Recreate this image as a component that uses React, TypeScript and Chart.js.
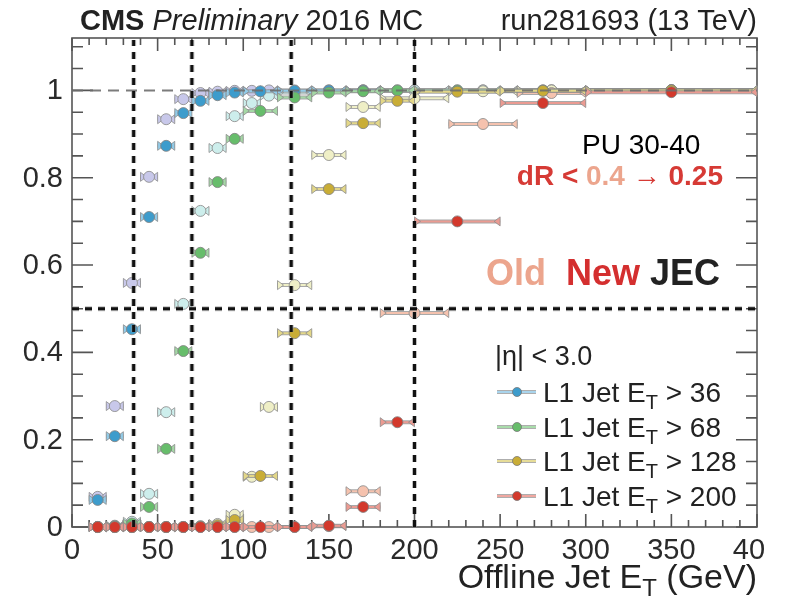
import { useEffect, useRef } from "react";
import { Chart, registerables } from "chart.js";

Chart.register(...registerables);

// Binning (GeV): bin centres and half widths for the two JEC versions
const newBinCenters = [15, 25, 35, 45, 55, 65, 75, 85, 95, 110, 130, 150, 170, 190, 225, 275, 350];
const newBinHalfWidths = [5, 5, 5, 5, 5, 5, 5, 5, 5, 10, 10, 10, 10, 10, 25, 25, 50];
const oldBinCenters = [15, 25, 35, 45, 55, 65, 75, 85, 95, 105, 115, 130, 150, 170, 200, 240, 280, 350];
const oldBinHalfWidths = [5, 5, 5, 5, 5, 5, 5, 5, 5, 5, 5, 10, 10, 10, 20, 20, 20, 50];

// Efficiencies, new JEC
const effNew36 = [0.062, 0.208, 0.453, 0.71, 0.873, 0.948, 0.976, 0.989, 0.995, 0.998, 0.999, 1, 1, 1, 1, 1, 1];
const effNew68 = [0, 0.002, 0.008, 0.046, 0.179, 0.403, 0.628, 0.79, 0.889, 0.953, 0.984, 0.995, 0.998, 1, 1, 1, 1];
const effNew128 = [0, 0, 0, 0, 0, 0, 0.001, 0.004, 0.016, 0.117, 0.444, 0.774, 0.925, 0.976, 0.997, 0.999, 1];
const effNew200 = [0, 0, 0, 0, 0, 0, 0, 0, 0, 0, 0, 0.003, 0.046, 0.24, 0.7, 0.971, 0.996];

// Efficiencies, old JEC
const effOld36 = [0.069, 0.277, 0.559, 0.802, 0.934, 0.98, 0.994, 0.997, 0.999, 0.999, 1, 1, 1, 1, 1, 1, 1, 1];
const effOld68 = [0, 0.003, 0.012, 0.076, 0.263, 0.511, 0.724, 0.868, 0.941, 0.971, 0.988, 0.995, 0.998, 1, 1, 1, 1, 1];
const effOld128 = [0, 0, 0, 0, 0, 0, 0.002, 0.007, 0.028, 0.115, 0.275, 0.554, 0.852, 0.962, 0.982, 0.998, 1, 1];
const effOld200 = [0, 0, 0, 0, 0, 0, 0, 0, 0, 0, 0, 0, 0.002, 0.082, 0.49, 0.923, 0.994, 1];

// L1 thresholds (GeV) marked with vertical lines, and reference levels
const thresholdLines = [36, 70, 128, 200];
const halfEfficiency = 0.5;
const fullEfficiency = 1;

const legendThresholds = ["36", "68", "128", "200"];
const xTickValues = [0, 50, 100, 150, 200, 250, 300, 350, 400];
const xTickLabels = ["0", "50", "100", "150", "200", "250", "300", "350", "400"];
const yTickValues = [0, 0.2, 0.4, 0.6, 0.8, 1];
const yTickLabels = ["0", "0.2", "0.4", "0.6", "0.8", "1"];

const SANS = '"Liberation Sans", Arial, Helvetica, "DejaVu Sans", sans-serif';

const newColors = ["#3d9ccc", "#67bd6b", "#c9ad36", "#d3392c"];
const newBarColors = ["#92cbe8", "#a4d8a5", "#e3d788", "#eb9b92"];
const oldColors = ["#c8c8ea", "#cdeeec", "#efefc6", "#f5c2ae"];
const legendLineColors = ["#a9d4ec", "#a9dcab", "#e6dc98", "#efa7a0"];

type Pt = { x: number; y: number; xMin: number; xMax: number };

function makePoints(centers: number[], half: number[], eff: number[]): Pt[] {
  return centers.map((c, i) => ({ x: c, y: eff[i], xMin: c - half[i], xMax: c + half[i] }));
}

type Part = { text: string; font: string; color: string; dy?: number };

function drawRich(ctx: CanvasRenderingContext2D, parts: Part[], x: number, y: number, align: "left" | "right") {
  ctx.save();
  ctx.textAlign = "left";
  ctx.textBaseline = "alphabetic";
  let total = 0;
  for (const p of parts) {
    ctx.font = p.font;
    total += ctx.measureText(p.text).width;
  }
  let cx = align === "right" ? x - total : x;
  for (const p of parts) {
    ctx.font = p.font;
    ctx.fillStyle = p.color;
    ctx.fillText(p.text, cx, y + (p.dy || 0));
    cx += ctx.measureText(p.text).width;
  }
  ctx.restore();
}

function dashedLine(ctx: CanvasRenderingContext2D, x0: number, y0: number, x1: number, y1: number) {
  ctx.setLineDash([7, 6]);
  ctx.strokeStyle = "rgba(150,150,150,0.6)";
  ctx.lineWidth = 5;
  ctx.beginPath();
  ctx.moveTo(x0, y0);
  ctx.lineTo(x1, y1);
  ctx.stroke();
  ctx.strokeStyle = "#111";
  ctx.lineWidth = 3;
  ctx.beginPath();
  ctx.moveTo(x0, y0);
  ctx.lineTo(x1, y1);
  ctx.stroke();
}

// Horizontal error bars with small flared end caps, drawn under each dataset's markers
const errorBarPlugin = {
  id: "errorBars",
  beforeDatasetDraw(chart: any, args: any) {
    const ds = chart.data.datasets[args.index];
    const xs = chart.scales.x;
    const ys = chart.scales.y;
    const ctx: CanvasRenderingContext2D = chart.ctx;
    ctx.save();
    ctx.setLineDash([]);
    for (const p of ds.data as Pt[]) {
      const x0 = xs.getPixelForValue(p.xMin);
      const x1 = xs.getPixelForValue(p.xMax);
      const y = ys.getPixelForValue(p.y);
      ctx.strokeStyle = "rgba(140,140,140,0.75)";
      ctx.lineWidth = 4;
      ctx.beginPath();
      ctx.moveTo(x0, y);
      ctx.lineTo(x1, y);
      ctx.stroke();
      ctx.strokeStyle = ds.barColor;
      ctx.lineWidth = 2;
      ctx.beginPath();
      ctx.moveTo(x0, y);
      ctx.lineTo(x1, y);
      ctx.stroke();
      for (const [xe, dir] of [[x0, 1], [x1, -1]]) {
        ctx.beginPath();
        ctx.moveTo(xe, y - 4.5);
        ctx.lineTo(xe, y + 4.5);
        ctx.lineTo(xe + dir * 6, y);
        ctx.closePath();
        ctx.fillStyle = ds.barColor;
        ctx.fill();
        ctx.strokeStyle = "rgba(140,140,140,0.8)";
        ctx.lineWidth = 1;
        ctx.stroke();
      }
    }
    ctx.restore();
  },
};

// ROOT-style frame: box, inward ticks on all four sides, tick labels
const framePlugin = {
  id: "frame",
  beforeDatasetsDraw(chart: any) {
    const ctx: CanvasRenderingContext2D = chart.ctx;
    const { left, right, top, bottom } = chart.chartArea;
    const xs = chart.scales.x;
    const ys = chart.scales.y;
    ctx.save();
    ctx.strokeStyle = "#555";
    ctx.lineWidth = 1.6;
    ctx.setLineDash([]);
    ctx.strokeRect(left, top, right - left, bottom - top);

    ctx.beginPath();
    for (let v = 0; v <= 400.001; v += 10) {
      const px = xs.getPixelForValue(v);
      const len = Math.abs(v % 50) < 0.01 ? 13 : 7;
      ctx.moveTo(px, bottom);
      ctx.lineTo(px, bottom - len);
      ctx.moveTo(px, top);
      ctx.lineTo(px, top + len);
    }
    for (let i = 0; i <= 22; i++) {
      const v = i * 0.05;
      const py = ys.getPixelForValue(v);
      const len = i % 4 === 0 ? 21 : 11;
      ctx.moveTo(left, py);
      ctx.lineTo(left + len, py);
      ctx.moveTo(right, py);
      ctx.lineTo(right - len, py);
    }
    ctx.stroke();

    ctx.fillStyle = "#2a2a2a";
    ctx.font = `29px ${SANS}`;
    ctx.textAlign = "right";
    ctx.textBaseline = "middle";
    yTickValues.forEach((v, i) => {
      ctx.fillText(yTickLabels[i], left - 9, ys.getPixelForValue(v) + 1);
    });
    // the pad ends just right of the frame, so the last label is cut there
    ctx.save();
    ctx.beginPath();
    ctx.rect(0, 0, 765, chart.height);
    ctx.clip();
    ctx.textAlign = "center";
    ctx.textBaseline = "top";
    xTickValues.forEach((v, i) => {
      ctx.fillText(xTickLabels[i], xs.getPixelForValue(v), bottom + 9);
    });
    ctx.restore();
    ctx.restore();
  },
};

// Reference lines, annotations, legend and titles on top of the markers
const overlayPlugin = {
  id: "overlay",
  afterDatasetsDraw(chart: any) {
    const ctx: CanvasRenderingContext2D = chart.ctx;
    const { left, right, top, bottom } = chart.chartArea;
    const xs = chart.scales.x;
    const ys = chart.scales.y;
    ctx.save();

    const y1 = ys.getPixelForValue(fullEfficiency);
    ctx.setLineDash([11, 7]);
    ctx.strokeStyle = "rgba(110,110,110,0.9)";
    ctx.lineWidth = 2;
    ctx.beginPath();
    ctx.moveTo(left, y1);
    ctx.lineTo(right, y1);
    ctx.stroke();

    for (const t of thresholdLines) {
      const px = xs.getPixelForValue(t);
      dashedLine(ctx, px, bottom, px, top + 2);
    }
    const yh = ys.getPixelForValue(halfEfficiency);
    dashedLine(ctx, left, yh, right, yh);
    ctx.setLineDash([]);

    // Annotations
    drawRich(ctx, [{ text: "PU 30-40", font: `28px ${SANS}`, color: "#000" }], 582, 154, "left");
    const b28 = `bold 28px ${SANS}`;
    drawRich(
      ctx,
      [
        { text: "dR < ", font: b28, color: "#d63a35" },
        { text: "0.4", font: b28, color: "#eca58d" },
        { text: " \u2192 ", font: b28, color: "#d63a35" },
        { text: "0.25", font: b28, color: "#d63a35" },
      ],
      723,
      185,
      "right"
    );
    const b36 = `bold 36px ${SANS}`;
    drawRich(
      ctx,
      [
        { text: "Old", font: b36, color: "#eca58d" },
        { text: "  ", font: b36, color: "#000" },
        { text: "New", font: b36, color: "#d42f2f" },
        { text: " ", font: b36, color: "#000" },
        { text: "JEC", font: b36, color: "#222" },
      ],
      720,
      285,
      "right"
    );

    // Legend
    drawRich(ctx, [{ text: "|\u03b7| < 3.0", font: `27px ${SANS}`, color: "#222" }], 495, 365, "left");
    const rowY = [392, 427, 461, 496];
    legendThresholds.forEach((thr, i) => {
      const cy = rowY[i];
      ctx.strokeStyle = "rgba(140,140,140,0.7)";
      ctx.lineWidth = 4;
      ctx.beginPath();
      ctx.moveTo(497, cy);
      ctx.lineTo(536, cy);
      ctx.stroke();
      ctx.strokeStyle = legendLineColors[i];
      ctx.lineWidth = 2;
      ctx.beginPath();
      ctx.moveTo(497, cy);
      ctx.lineTo(536, cy);
      ctx.stroke();
      ctx.beginPath();
      ctx.arc(517, cy, 4.5, 0, Math.PI * 2);
      ctx.fillStyle = newColors[i];
      ctx.fill();
      ctx.strokeStyle = "rgba(120,120,120,0.8)";
      ctx.lineWidth = 1;
      ctx.stroke();
      const f = `28px ${SANS}`;
      drawRich(
        ctx,
        [
          { text: "L1 Jet E", font: f, color: "#222" },
          { text: "T", font: `20px ${SANS}`, color: "#222", dy: 7 },
          { text: " > " + thr, font: f, color: "#222" },
        ],
        543,
        cy + 10,
        "left"
      );
    });

    // Header
    drawRich(
      ctx,
      [
        { text: "CMS", font: `bold 29px ${SANS}`, color: "#222" },
        { text: " ", font: `29px ${SANS}`, color: "#222" },
        { text: "Preliminary", font: `italic 29px ${SANS}`, color: "#222" },
        { text: " 2016 MC", font: `29px ${SANS}`, color: "#222" },
      ],
      80,
      30,
      "left"
    );
    drawRich(ctx, [{ text: "run281693 (13 TeV)", font: `29px ${SANS}`, color: "#222" }], 757, 30, "right");

    // Axis title
    const f34 = `34px ${SANS}`;
    drawRich(
      ctx,
      [
        { text: "Offline Jet E", font: f34, color: "#222" },
        { text: "T", font: `24px ${SANS}`, color: "#222", dy: 8 },
        { text: " (GeV)", font: f34, color: "#222" },
      ],
      757,
      588,
      "right"
    );
    ctx.restore();
  },
};

export default function App() {
  const canvasRef = useRef<HTMLCanvasElement | null>(null);

  useEffect(() => {
    if (!canvasRef.current) return;
    const oldSets = [effOld36, effOld68, effOld128, effOld200];
    const newSets = [effNew36, effNew68, effNew128, effNew200];
    const datasets: any[] = [];
    oldSets.forEach((eff, i) => {
      datasets.push({
        label: `Old JEC, L1 Jet ET > ${legendThresholds[i]}`,
        data: makePoints(oldBinCenters, oldBinHalfWidths, eff),
        backgroundColor: oldColors[i],
        borderColor: "rgba(140,140,140,0.85)",
        borderWidth: 1,
        pointRadius: 5.5,
        barColor: oldColors[i],
        clip: false,
      });
    });
    newSets.forEach((eff, i) => {
      datasets.push({
        label: `New JEC, L1 Jet ET > ${legendThresholds[i]}`,
        data: makePoints(newBinCenters, newBinHalfWidths, eff),
        backgroundColor: newColors[i],
        borderColor: "rgba(130,130,130,0.85)",
        borderWidth: 1,
        pointRadius: 5.5,
        barColor: newBarColors[i],
        clip: false,
      });
    });
    // later datasets drawn on top
    datasets.forEach((d, i) => (d.order = datasets.length - i));

    const chart = new Chart(canvasRef.current, {
      type: "scatter",
      data: { datasets },
      options: {
        responsive: false,
        animation: false,
        events: [],
        layout: { padding: { left: 72, right: 30, top: 38, bottom: 73 } },
        plugins: { legend: { display: false }, tooltip: { enabled: false } },
        scales: {
          x: { type: "linear", min: 0, max: 400, display: false },
          y: { type: "linear", min: 0, max: 1.12, display: false },
        },
      },
      plugins: [framePlugin, errorBarPlugin, overlayPlugin],
    });
    return () => chart.destroy();
  }, []);

  return (
    <div style={{ position: "fixed", left: 0, top: 0, width: 787, height: 600, background: "#fff" }}>
      <canvas ref={canvasRef} width={787} height={600} style={{ width: 787, height: 600 }} />
    </div>
  );
}
